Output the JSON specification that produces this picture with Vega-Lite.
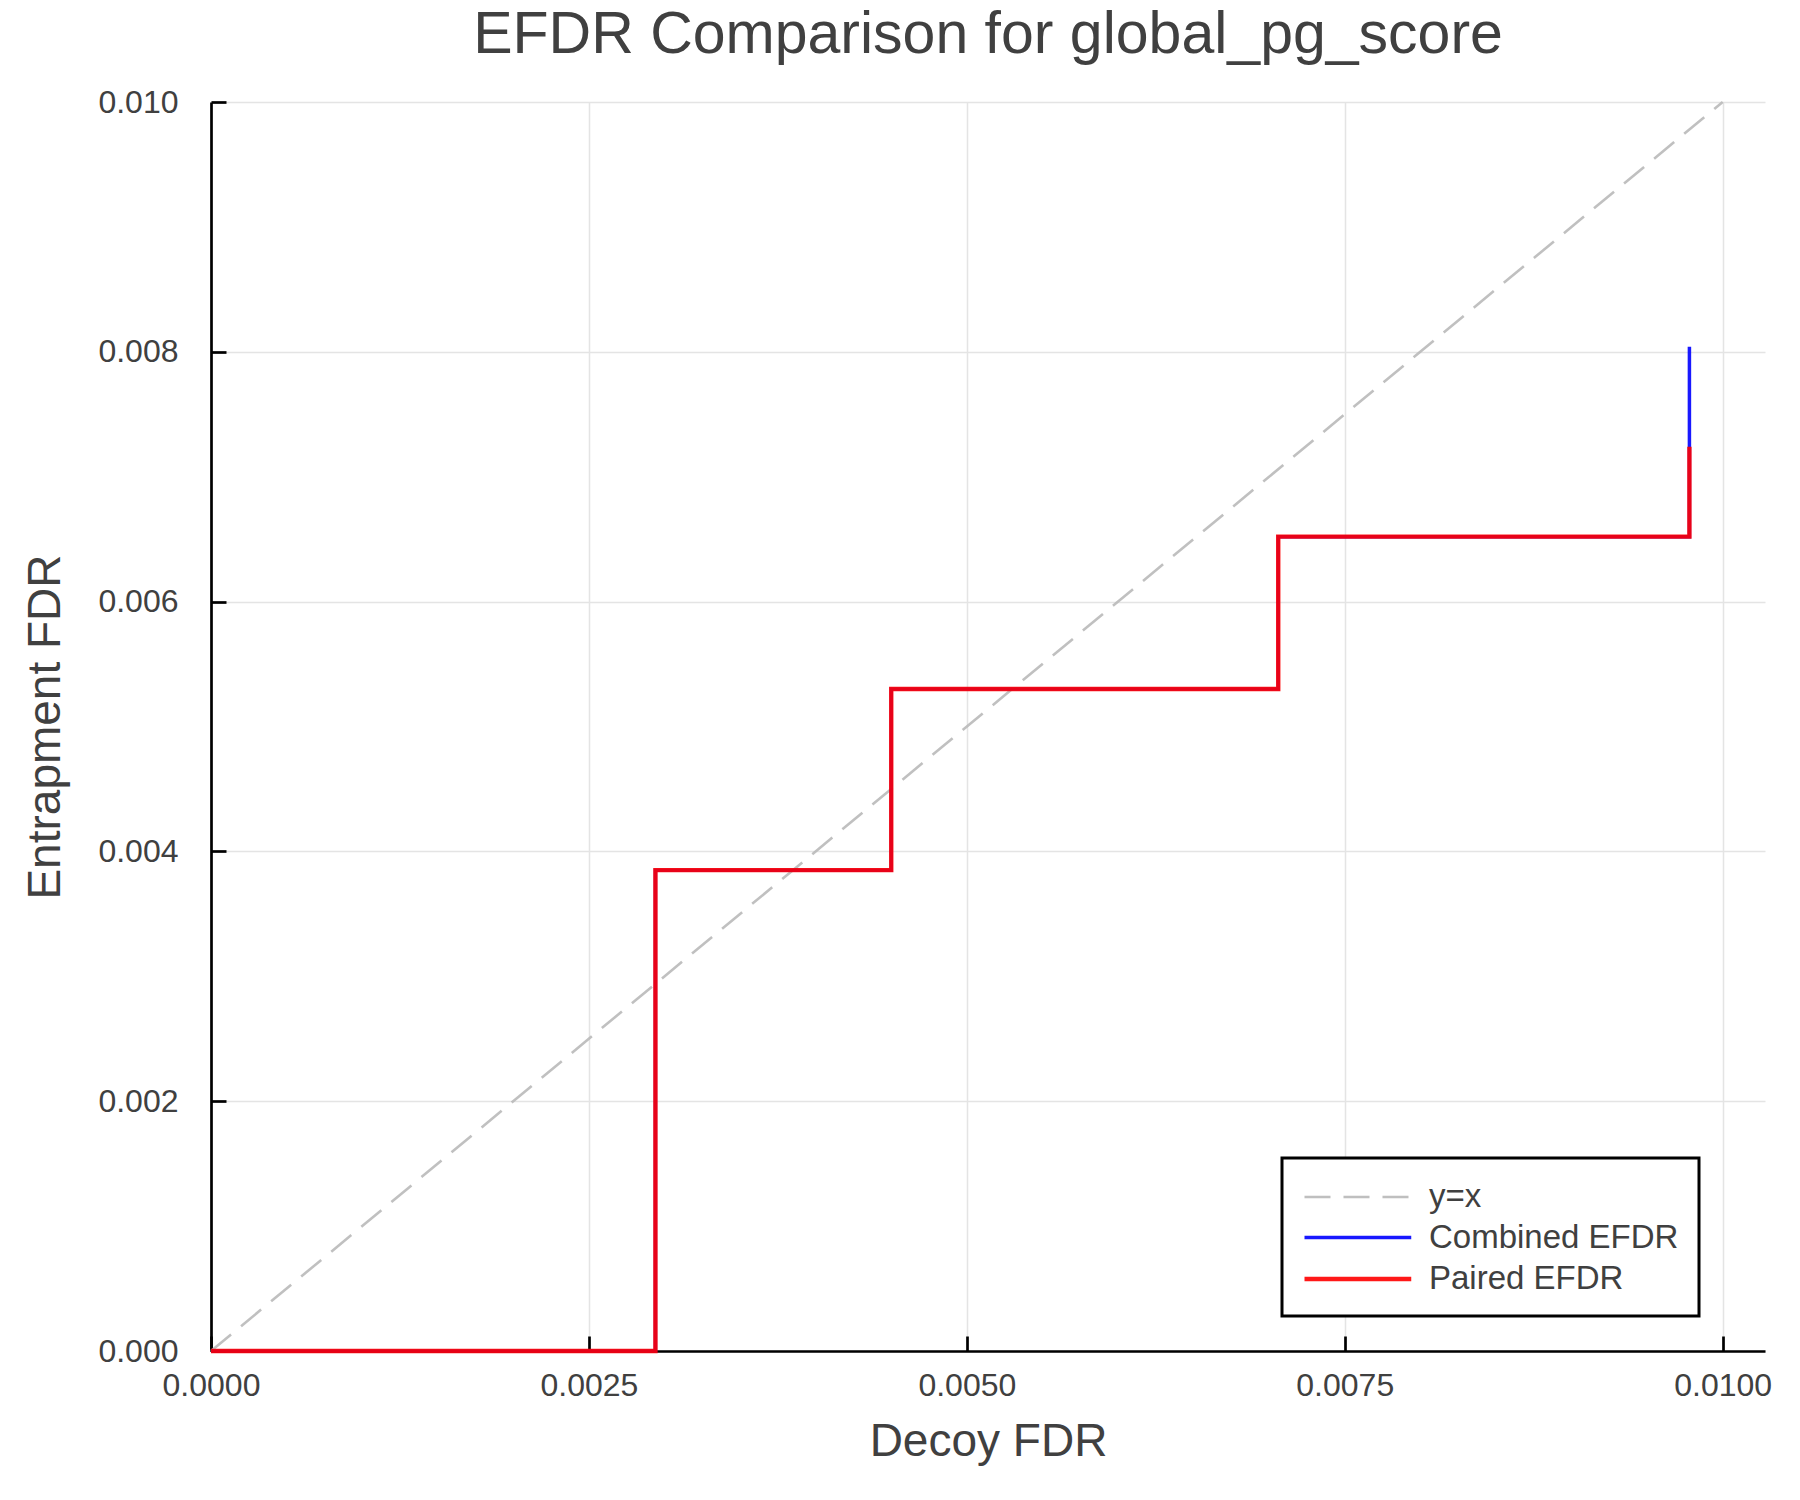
{
  "$schema": "https://vega.github.io/schema/vega-lite/v6.json",
  "autosize": {"type": "none"},
  "padding": {"left": 211, "top": 102, "right": 35, "bottom": 149},
  "width": 1554,
  "height": 1249,
  "background": "white",
  "config": {
    "font": "Liberation Sans",
    "view": {"stroke": null},
    "legend": {"strokeWidth": 3},
    "axis": {
      "labelFont": "Liberation Sans",
      "titleFont": "Liberation Sans",
      "labelColor": "#404040",
      "titleColor": "#404040",
      "labelFontSize": 32,
      "titleFontSize": 46,
      "titleFontWeight": "normal",
      "labelFlush": false,
      "labelOverlap": false,
      "domainColor": "black",
      "domainWidth": 2.7,
      "tickColor": "black",
      "tickWidth": 2.7,
      "tickSize": -15,
      "gridColor": "#e4e4e4",
      "gridWidth": 1.5
    }
  },
  "title": {
    "text": "EFDR Comparison for global_pg_score",
    "font": "Liberation Sans",
    "fontSize": 59,
    "fontWeight": "normal",
    "color": "#404040",
    "anchor": "middle",
    "offset": 21
  },
  "data": {
    "values": [
      {"series": "y=x", "i": 0, "decoy": 0.0, "entrap": 0.0},
      {"series": "y=x", "i": 1, "decoy": 0.01, "entrap": 0.01},
      {"series": "Combined EFDR", "i": 0, "decoy": 0.0, "entrap": 0.0},
      {"series": "Combined EFDR", "i": 1, "decoy": 0.00294, "entrap": 0.0},
      {"series": "Combined EFDR", "i": 2, "decoy": 0.00294, "entrap": 0.00385},
      {"series": "Combined EFDR", "i": 3, "decoy": 0.0045, "entrap": 0.00385},
      {"series": "Combined EFDR", "i": 4, "decoy": 0.0045, "entrap": 0.0053},
      {"series": "Combined EFDR", "i": 5, "decoy": 0.00706, "entrap": 0.0053},
      {"series": "Combined EFDR", "i": 6, "decoy": 0.00706, "entrap": 0.00652},
      {"series": "Combined EFDR", "i": 7, "decoy": 0.00978, "entrap": 0.00652},
      {"series": "Combined EFDR", "i": 8, "decoy": 0.00978, "entrap": 0.00804},
      {"series": "Paired EFDR", "i": 0, "decoy": 0.0, "entrap": 0.0},
      {"series": "Paired EFDR", "i": 1, "decoy": 0.00294, "entrap": 0.0},
      {"series": "Paired EFDR", "i": 2, "decoy": 0.00294, "entrap": 0.00385},
      {"series": "Paired EFDR", "i": 3, "decoy": 0.0045, "entrap": 0.00385},
      {"series": "Paired EFDR", "i": 4, "decoy": 0.0045, "entrap": 0.0053},
      {"series": "Paired EFDR", "i": 5, "decoy": 0.00706, "entrap": 0.0053},
      {"series": "Paired EFDR", "i": 6, "decoy": 0.00706, "entrap": 0.00652},
      {"series": "Paired EFDR", "i": 7, "decoy": 0.00978, "entrap": 0.00652},
      {"series": "Paired EFDR", "i": 8, "decoy": 0.00978, "entrap": 0.00724}
    ]
  },
  "mark": {"type": "line", "opacity": 0.9, "clip": false},
  "encoding": {
    "x": {
      "field": "decoy",
      "type": "quantitative",
      "title": "Decoy FDR",
      "scale": {"domain": [0, 0.01028], "nice": false, "zero": false},
      "axis": {
        "values": [0, 0.0025, 0.005, 0.0075, 0.01],
        "format": ".4f",
        "labelPadding": 34,
        "titlePadding": 18
      }
    },
    "y": {
      "field": "entrap",
      "type": "quantitative",
      "title": "Entrapment FDR",
      "scale": {"domain": [0, 0.01], "nice": false, "zero": false},
      "axis": {
        "values": [0, 0.002, 0.004, 0.006, 0.008, 0.01],
        "format": ".3f",
        "labelPadding": 48,
        "titlePadding": 28
      }
    },
    "order": {"field": "i", "type": "quantitative"},
    "color": {
      "field": "series",
      "type": "nominal",
      "scale": {
        "domain": ["y=x", "Combined EFDR", "Paired EFDR"],
        "range": ["#b9b9b9", "#0000ff", "#ff0000"]
      },
      "legend": {
        "title": null,
        "orient": "none",
        "legendX": 1071,
        "legendY": 1056,
        "strokeColor": "black",
        "fillColor": "white",
        "padding": 20,
        "symbolType": "M-1,0H5.1",
        "symbolSize": 1225,
        "symbolStrokeWidth": 4,
        "labelFont": "Liberation Sans",
        "labelFontSize": 33,
        "labelColor": "#404040",
        "labelLimit": 500,
        "labelOffset": 87,
        "rowPadding": 4
      }
    },
    "strokeDash": {
      "field": "series",
      "type": "nominal",
      "scale": {
        "domain": ["y=x", "Combined EFDR", "Paired EFDR"],
        "range": [[26, 13], [1, 0], [1, 0]]
      },
      "legend": {
        "title": null,
        "orient": "none",
        "legendX": 1071,
        "legendY": 1056
      }
    },
    "strokeWidth": {
      "field": "series",
      "type": "ordinal",
      "scale": {
        "domain": ["y=x", "Combined EFDR", "Paired EFDR"],
        "range": [2.6, 4.4, 4.4]
      },
      "legend": null
    }
  }
}
